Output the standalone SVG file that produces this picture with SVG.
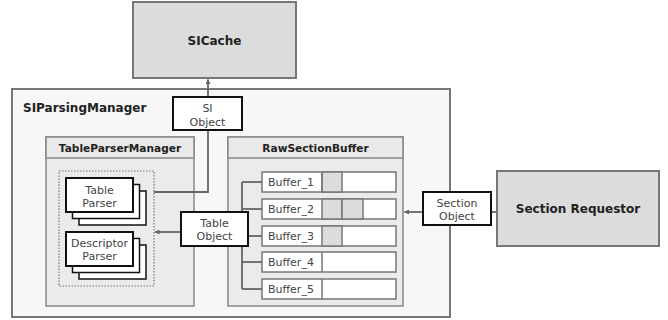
<svg xmlns="http://www.w3.org/2000/svg" width="668" height="320" viewBox="0 0 668 320">
  <defs>
    <marker id="arrow" viewBox="0 0 10 10" refX="9" refY="5" markerWidth="5" markerHeight="5" orient="auto-start-reverse" markerUnits="userSpaceOnUse">
      <path d="M0,0 L10,5 L0,10 z" fill="#666"/>
    </marker>
    <style>
      .big { fill: #dcdcdc; stroke: #777; stroke-width: 2; }
      .outer { fill: #f7f7f7; stroke: #777; stroke-width: 2; }
      .inner { fill: #ebebeb; stroke: #888; stroke-width: 1.5; }
      .hdr { fill: #e9e9e9; stroke: #888; stroke-width: 1.5; }
      .obj { fill: #fff; stroke: #111; stroke-width: 2; }
      .card { fill: #fff; stroke: #111; stroke-width: 1.5; }
      .front { fill: #fff; stroke: #111; stroke-width: 2; }
      .cell { fill: #fff; stroke: #777; stroke-width: 1.5; }
      .used { fill: #dcdcdc; stroke: #777; stroke-width: 1.5; }
      .dotted { fill: none; stroke: #777; stroke-width: 1.2; stroke-dasharray: 1.5 1.5; }
      .wire { fill: none; stroke: #666; stroke-width: 1.8; }
      .bold { font-family: "DejaVu Sans", Verdana, sans-serif; font-weight: bold; fill: #222; }
      .t12 { font-size: 12px; }
      .t11 { font-size: 10.6px; }
      .lbl { font-family: "DejaVu Sans", Verdana, sans-serif; font-size: 11px; fill: #444; }
      .mid { text-anchor: middle; }
    </style>
  </defs>

  <!-- top-level cache -->
  <g id="si-cache">
    <rect class="big" x="133" y="2" width="163" height="76"/>
    <text class="bold t12 mid" x="214.5" y="45">SICache</text>
  </g>

  <!-- parsing manager container -->
  <g id="si-parsing-manager">
    <rect class="outer" x="12" y="89" width="438" height="228"/>
    <text class="bold t12" x="23" y="112">SIParsingManager</text>
  </g>

  <g id="table-parser-manager">
    <rect class="inner" x="46" y="137" width="148" height="169"/>
    <rect class="hdr" x="46" y="137" width="148" height="21"/>
    <text class="bold t11 mid" x="120" y="151.5">TableParserManager</text>
    <rect class="dotted" x="59" y="171" width="95" height="115"/>
  </g>

  <g id="table-parser">
    <rect class="card" x="79" y="191" width="67" height="34"/>
    <rect class="card" x="72.5" y="184.5" width="67" height="34"/>
    <rect class="front" x="66" y="178" width="67" height="34"/>
    <text class="lbl mid" x="99.5" y="194">Table</text>
    <text class="lbl mid" x="99.5" y="207">Parser</text>
  </g>

  <g id="descriptor-parser">
    <rect class="card" x="79" y="245" width="67" height="34"/>
    <rect class="card" x="72.5" y="238.5" width="67" height="34"/>
    <rect class="front" x="66" y="232" width="67" height="34"/>
    <text class="lbl mid" x="99.5" y="246.5">Descriptor</text>
    <text class="lbl mid" x="99.5" y="260">Parser</text>
  </g>

  <g id="raw-section-buffer">
    <rect class="inner" x="228" y="137" width="175" height="169"/>
    <rect class="hdr" x="228" y="137" width="175" height="21"/>
    <text class="bold t11 mid" x="315.5" y="151.5">RawSectionBuffer</text>
  </g>

  <!-- connectors -->
  <g id="connectors">
    <line class="wire" x1="208" y1="97" x2="208" y2="79.5" marker-end="url(#arrow)"/>
    <polyline class="wire" points="208,130 208,192 154,192"/>
    <line class="wire" x1="181" y1="232" x2="155" y2="232" marker-end="url(#arrow)"/>
    <line class="wire" x1="242" y1="182" x2="242" y2="289"/>
    <line class="wire" x1="242" y1="182" x2="262" y2="182"/>
    <line class="wire" x1="242" y1="209" x2="262" y2="209"/>
    <line class="wire" x1="242" y1="236" x2="262" y2="236"/>
    <line class="wire" x1="242" y1="262" x2="262" y2="262"/>
    <line class="wire" x1="242" y1="289" x2="262" y2="289"/>
    <line class="wire" x1="423" y1="212" x2="404.5" y2="212" marker-end="url(#arrow)"/>
    <line class="wire" x1="491" y1="212" x2="497" y2="212"/>
  </g>

  <g id="buffer-1">
    <rect class="cell" x="262" y="172" width="134" height="20"/>
    <rect class="used" x="322" y="172" width="20" height="20"/>
    <line class="cell" x1="322" y1="172" x2="322" y2="192"/>
    <text class="lbl" x="268" y="186">Buffer_1</text>
  </g>
  <g id="buffer-2">
    <rect class="cell" x="262" y="199" width="134" height="20"/>
    <rect class="used" x="322" y="199" width="20" height="20"/>
    <rect class="used" x="342" y="199" width="21" height="20"/>
    <text class="lbl" x="268" y="213">Buffer_2</text>
  </g>
  <g id="buffer-3">
    <rect class="cell" x="262" y="226" width="134" height="20"/>
    <rect class="used" x="322" y="226" width="20" height="20"/>
    <text class="lbl" x="268" y="240">Buffer_3</text>
  </g>
  <g id="buffer-4">
    <rect class="cell" x="262" y="252" width="134" height="20"/>
    <line class="cell" x1="322" y1="252" x2="322" y2="272"/>
    <text class="lbl" x="268" y="266">Buffer_4</text>
  </g>
  <g id="buffer-5">
    <rect class="cell" x="262" y="279" width="134" height="20"/>
    <line class="cell" x1="322" y1="279" x2="322" y2="299"/>
    <text class="lbl" x="268" y="293">Buffer_5</text>
  </g>

  <g id="si-object">
    <rect class="obj" x="173" y="97" width="69" height="33"/>
    <text class="lbl mid" x="207.5" y="112">SI</text>
    <text class="lbl mid" x="207.5" y="126">Object</text>
  </g>

  <g id="table-object">
    <rect class="obj" x="181" y="212" width="67" height="34"/>
    <text class="lbl mid" x="214.5" y="226.5">Table</text>
    <text class="lbl mid" x="214.5" y="240">Object</text>
  </g>

  <g id="section-object">
    <rect class="obj" x="423" y="192" width="68" height="33"/>
    <text class="lbl mid" x="457" y="207">Section</text>
    <text class="lbl mid" x="457" y="220">Object</text>
  </g>

  <g id="section-requestor">
    <rect class="big" x="497" y="171" width="162" height="75"/>
    <text class="bold t12 mid" x="578" y="213">Section Requestor</text>
  </g>
</svg>
